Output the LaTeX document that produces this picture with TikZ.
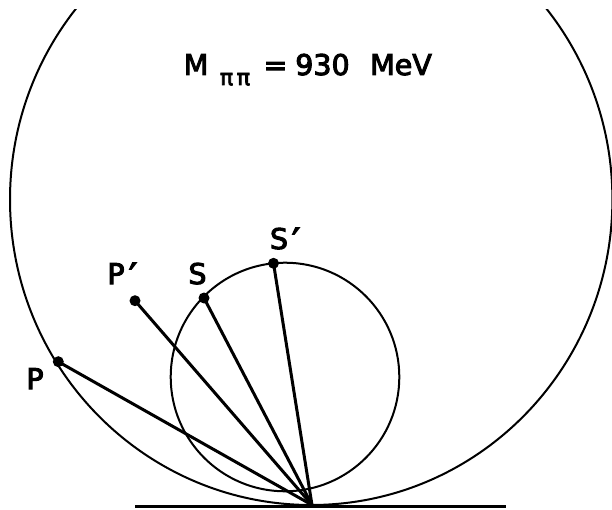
\documentclass[tikz,border=0pt]{standalone}
\usepackage{fontspec}
\setmainfont{DejaVu Sans}
\newfontfamily\labfont{DejaVu Sans}[FakeBold=3.5]
\begin{document}
\begin{tikzpicture}[x=1pt,y=-1pt,
  thinline/.style={line width=2pt},
  ray/.style={line width=3pt},
  dot/.style={circle,fill=black,inner sep=0pt,minimum size=11pt},
  lab/.style={font=\labfont\fontsize{28.5}{29}\selectfont, inner sep=0pt},
  sub/.style={font=\labfont\fontsize{22}{22}\selectfont, inner sep=0pt},
  prm/.style={font=\labfont\fontsize{36}{36}\selectfont, inner sep=0pt}]
\useasboundingbox (0,0) rectangle (612,510);
\begin{scope}
  \clip (0,10) rectangle (612,510);
  \draw[thinline] (311.2,199.5) ellipse [x radius=301.2pt, y radius=305.5pt];
\end{scope}
\draw[thinline] (285,377) circle [radius=114.3pt];
\coordinate (V) at (312,505);
\coordinate (L) at (135,506);
\coordinate (R) at (506,506);
\draw[ray] (L) -- (R);
\node[dot] (P) at (58.3,361.7) {};
\node[dot] (Pp) at (135,300.7) {};
\node[dot] (S) at (204,298) {};
\node[dot] (Sp) at (273.5,263.3) {};
\draw[ray] (P.center) -- (V);
\draw[ray] (Pp.center) -- (V);
\draw[ray] (S.center) -- (V);
\draw[ray] (Sp.center) -- (V);
\node[lab,anchor=base] (lP) at (35,389) {P};
\node[lab,anchor=base] (lPp) at (116,284) {P};
\node[prm,anchor=base] (lPpm) at (133,289) {′};
\node[lab,anchor=base] (lS) at (197.5,284) {S};
\node[lab,anchor=base] (lSp) at (279,249) {S};
\node[prm,anchor=base] (lSpm) at (296,254) {′};
\node[lab,anchor=base] (tM) at (196,75) {M};
\node[sub,anchor=base] (tpi) at (235,85) {π\,π};
\node[lab,anchor=base] (teq) at (275.5,75) {=};
\node[lab,anchor=base] (tnum) at (322.5,75) {930};
\node[lab,anchor=base] (tunit) at (401,75) {MeV};
\end{tikzpicture}
\end{document}
